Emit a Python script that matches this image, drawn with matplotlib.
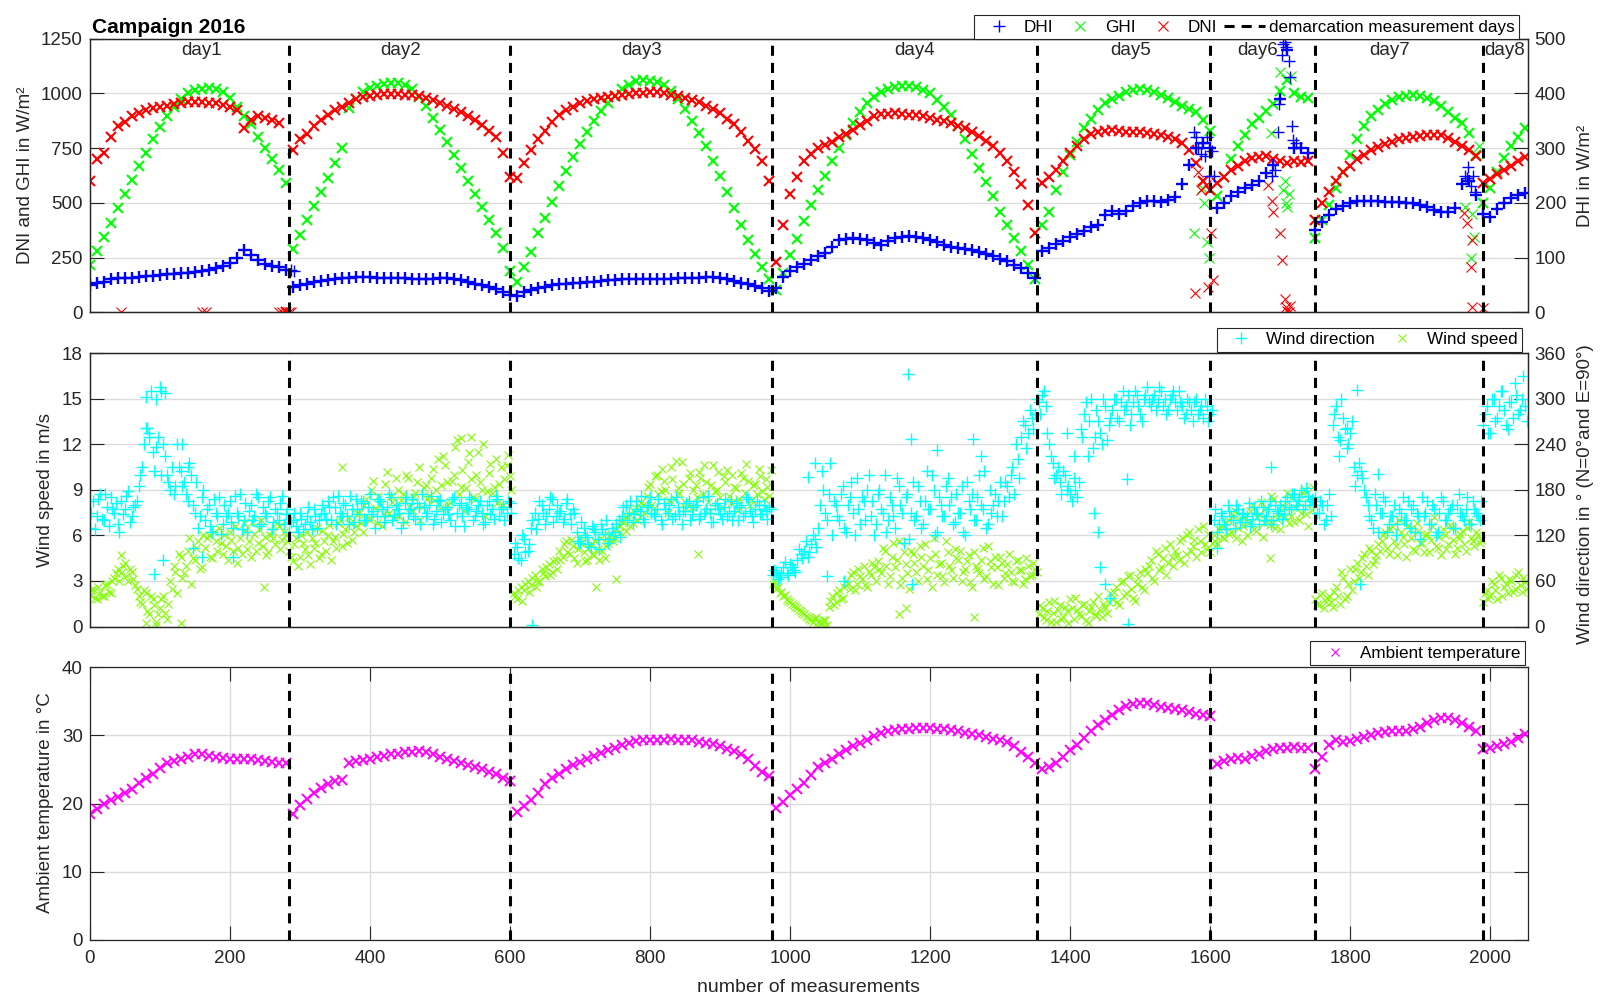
import numpy as np
import matplotlib
matplotlib.use("Agg")
import matplotlib.pyplot as plt
from matplotlib.lines import Line2D

plt.rcParams['font.family'] = ['Liberation Sans', 'DejaVu Sans']
INK = '#262626'
FS = 13.5        # axes text
FS_LEG = 12.3    # legend text

# ---------------------------------------------------------------- data
# measurement index where each new measurement day starts
day_bounds = [284, 600, 974, 1353, 1600, 1749, 1989]
day_names = ['day1', 'day2', 'day3', 'day4', 'day5', 'day6', 'day7', 'day8']
day_label_x = [160, 444, 788, 1177, 1486, 1667, 1856, 2020]

# irradiance and temperature, one value every 10 measurements (0 ... 2050)
STEP_SLOW = 10
dni = [
    600, 700, 730, 800, 850, 870, 895, 910, 925, 935, 940, 945, 950, 955, 960, 960, 960, 958, 955, 948, 940, 925, 840, 880, 895, 890, 880, 865, 0,
    740, 790, 815, 850, 878, 900, 925, 940, 955, 975, 985, 990, 995, 997, 998, 997, 995, 992, 988, 980, 970, 958, 945, 930, 915, 898, 878, 856, 830, 800, 730, 620,
    615, 680, 740, 790, 830, 870, 900, 925, 940, 955, 965, 975, 980, 985, 990, 995, 998, 1002, 1004, 1005, 1005, 1003, 995, 988, 980, 970, 960, 945, 930, 910, 885, 860, 825, 785, 745, 690, 600,
    230, 400, 540, 620, 690, 725, 750, 765, 780, 800, 815, 835, 855, 875, 895, 905, 908, 910, 905, 902, 900, 895, 888, 880, 875, 865, 852, 840, 825, 805, 785, 760, 730, 690, 640, 585, 490, 360,
    590, 620, 650, 690, 730, 760, 790, 815, 825, 830, 832, 828, 825, 822, 822, 820, 815, 810, 800, 790, 775, 740, 680, 600, 560,
    590, 620, 650, 670, 690, 705, 710, 715, 700, 690, 680, 690, 685, 690,
    420, 500, 550, 600, 640, 670, 700, 720, 740, 755, 770, 780, 790, 795, 800, 805, 808, 810, 808, 795, 780, 760, 740, 715,
    590, 610, 630, 650, 670, 690, 710,
]
ghi = [
    215, 280, 345, 410, 475, 540, 605, 670, 730, 790, 845, 895, 940, 975, 1000, 1015, 1022, 1025, 1020, 1005, 980, 940, 895, 860, 800, 750, 700, 650, 590,
    290, 355, 420, 485, 550, 615, 680, 750, 935, 975, 1005, 1025, 1035, 1045, 1050, 1048, 1040, 1020, 985, 945, 890, 835, 780, 720, 660, 600, 540, 480, 420, 360, 295, 190,
    140, 205, 275, 360, 430, 505, 575, 645, 711, 770, 825, 875, 920, 955, 990, 1020, 1040, 1055, 1060, 1058, 1052, 1040, 1010, 975, 930, 875, 820, 760, 690, 625, 550, 475, 400, 330, 265, 205, 150,
    100, 180, 260, 335, 415, 490, 560, 625, 690, 750, 810, 865, 915, 955, 985, 1005, 1020, 1030, 1035, 1035, 1030, 1015, 1000, 970, 940, 900, 850, 790, 725, 660, 595, 530, 460, 400, 340, 280, 215, 150,
    400, 460, 560, 640, 720, 780, 840, 885, 925, 955, 975, 990, 1005, 1015, 1020, 1018, 1005, 995, 980, 960, 945, 930, 915, 880, 830,
    530, 620, 700, 760, 810, 860, 890, 920, 950, 1010, 1060, 1000, 985, 980,
    340, 420, 490, 570, 640, 720, 790, 850, 895, 925, 950, 970, 985, 990, 993, 990, 980, 965, 945, 915, 890, 865, 820, 720,
    500, 570, 640, 705, 760, 800, 840,
]
dhi = [
    50, 53, 56, 60, 62, 63, 62, 64, 66, 67, 68, 69, 70, 71, 72, 74, 76, 78, 80, 84, 90, 100, 114, 105, 95, 88, 85, 82, 78,
    47, 49, 52, 55, 57, 59, 61, 62, 63, 64, 64, 64, 63, 63, 63, 62, 62, 61, 61, 61, 61, 62, 62, 60, 58, 55, 52, 50, 46, 42, 37, 32,
    30, 37, 41, 44, 47, 49, 51, 52, 53, 54, 55, 56, 57, 58, 59, 60, 61, 60, 60, 60, 60, 60, 61, 62, 62, 63, 63, 64, 64, 63, 60, 57, 54, 51, 48, 44, 38,
    45, 65, 75, 82, 89, 95, 102, 108, 120, 132, 134, 135, 134, 132, 126, 123, 130, 135, 138, 140, 138, 135, 132, 128, 122, 119, 117, 116, 113, 110, 106, 102, 98, 93, 87, 80, 72, 62,
    112, 118, 125, 130, 138, 143, 148, 155, 160, 178, 185, 180, 185, 195, 200, 203, 203, 202, 205, 210, 235, 270, 300, 310, 300,
    190, 200, 212, 220, 228, 233, 240, 255, 270, 390, 480, 300, 300, 292,
    150, 165, 178, 188, 195, 200, 203, 204, 203, 203, 202, 202, 201, 200, 199, 196, 192, 187, 184, 184, 190, 235, 240, 215,
    180, 175, 188, 200, 208, 215, 218,
]
temperature = [
    18.4, 19.2, 19.9, 20.5, 21.0, 21.5, 22.2, 23.0, 23.7, 24.3, 25.2, 25.9, 26.2, 26.5, 26.9, 27.2, 27.2, 27.0, 26.8, 26.7, 26.6, 26.6, 26.5, 26.5, 26.4, 26.3, 26.1, 26.0, 25.9,
    18.5, 19.8, 20.6, 21.5, 22.3, 22.8, 23.3, 23.4, 25.9, 26.2, 26.4, 26.6, 26.8, 27.0, 27.2, 27.3, 27.5, 27.6, 27.7, 27.6, 27.2, 26.8, 26.6, 26.3, 26.0, 25.6, 25.3, 25.0, 24.7, 24.3, 23.8, 23.3,
    18.8, 19.6, 20.5, 21.5, 22.8, 23.7, 24.4, 25.0, 25.6, 26.1, 26.5, 27.0, 27.4, 27.8, 28.2, 28.6, 28.9, 29.2, 29.3, 29.4, 29.4, 29.4, 29.5, 29.4, 29.4, 29.3, 29.1, 28.9, 28.7, 28.4, 28.0, 27.7, 27.3, 26.5, 25.5, 24.7, 24.0,
    19.3, 20.2, 21.2, 22.1, 23.0, 24.2, 25.3, 26.0, 26.6, 27.2, 27.8, 28.4, 28.9, 29.4, 29.9, 30.3, 30.6, 30.8, 30.9, 31.0, 31.1, 31.1, 31.1, 31.0, 30.9, 30.8, 30.6, 30.4, 30.2, 30.0, 29.8, 29.5, 29.3, 29.0, 28.5, 27.5, 26.8, 26.0,
    25.0, 25.4, 26.0, 26.8, 27.8, 28.6, 29.6, 30.6, 31.5, 32.2, 33.0, 33.7, 34.3, 34.6, 34.8, 34.8, 34.5, 34.2, 34.0, 33.9, 33.7, 33.5, 33.2, 33.0, 32.8,
    25.8, 26.2, 26.5, 26.7, 26.6, 27.0, 27.3, 27.7, 28.0, 28.2, 28.2, 28.3, 28.2, 28.1,
    25.0, 26.8, 28.6, 29.3, 29.0, 29.2, 29.5, 29.8, 30.0, 30.3, 30.5, 30.6, 30.6, 30.7, 30.9, 31.3, 31.8, 32.2, 32.5, 32.6, 32.2, 31.8, 31.3, 30.7,
    28.0, 28.2, 28.4, 28.7, 29.0, 29.6, 30.2,
]

# isolated readings (cloud passages, sensor dropouts)
dni_extra_n = [45, 160, 166, 270, 275, 285, 288, 1578, 1583, 1586, 1590, 1594, 1597, 1601, 1604,
               1683, 1688, 1690, 1700, 1703, 1706, 1708, 1710, 1712, 1714, 1962, 1966, 1972, 1973, 1974, 1989]
dni_extra = [0, 0, 0, 0, 0, 0, 0, 86, 640, 560, 600, 580, 117, 360, 147,
             580, 510, 460, 360, 240, 60, 25, 5, 0, 30, 452, 406, 208, 25, 330, 18]
ghi_extra_n = [1577, 1588, 1591, 1595, 1598, 1686, 1700, 1704, 1706, 1708, 1710, 1712, 1715, 1964, 1972, 1974, 1976, 1984]
ghi_extra = [360, 570, 500, 320, 250, 820, 1100, 560, 600, 500, 480, 540, 1080, 480, 250, 450, 345, 760]
dhi_extra_n = [288, 292, 1576, 1579, 1583, 1586, 1588, 1592, 1595, 1598, 1602, 1605,
               1688, 1692, 1696, 1698, 1702, 1704, 1706, 1708, 1712, 1714, 1716, 1718, 1722,
               1963, 1966, 1968, 1972, 1975, 1978]
dhi_extra = [77, 76, 330, 320, 300, 290, 310, 285, 320, 250, 295, 250,
             250, 260, 330, 380, 470, 490, 495, 485, 460, 430, 340, 315, 310,
             250, 245, 265, 230, 250, 220]

# wind: two readings in every block of 5 measurements (offsets 0 and 2)
STEP_WIND = 5
wind_dir = [
    130, 165, 145, 175, 140, 158, 170, 150, 135, 165, 155, 178, 145, 160,
    185, 210, 302, 255, 230, 300, 315, 240, 200, 180, 175, 240,
    205, 190, 165, 200, 150, 130, 170,
    140, 160, 125, 150, 170, 135, 145, 165, 130, 150, 175, 140, 125, 160, 145, 170, 135, 150, 165, 128, 155, 140, 172, 148,
    125, 140, 132, 150, 128, 145, 138, 155, 130, 148,
    150, 165, 140, 158, 172, 145, 160, 135, 155, 168, 148, 162, 140, 175, 152, 145, 165, 138, 158, 170,
    147, 155, 130, 162, 150, 168, 142, 157, 175, 145, 160, 135, 152, 166, 148, 158, 140, 170, 150, 162,
    132, 155, 168, 145, 160, 150, 138, 165, 155, 172, 145, 158, 150, 162,
    95, 105, 88, 115, 100,
    130, 150, 142, 160, 135, 155, 168, 145, 150, 138, 162, 148, 155,
    125, 110, 130, 118, 105, 128, 115, 135, 122, 110, 130, 120, 140,
    145, 160, 150, 138, 165, 152, 142, 158, 170, 148, 155, 140, 162, 150, 168, 145, 158, 135, 152, 165,
    148, 160, 142, 170, 155, 150, 138, 162, 148, 158, 145, 165, 152, 140, 160, 150, 168, 145, 155, 160, 148, 152, 158,
    68, 72, 65, 78, 70, 82, 75,
    88, 95, 100, 92, 108, 115,
    130, 205, 150, 175, 120,
    160, 140, 185, 125, 170, 150, 195, 135, 165, 180, 145, 120, 175, 155, 200, 140, 160, 130, 185, 150,
    170, 115, 190, 145, 165, 135, 205, 155, 180, 125, 160, 145, 195, 170, 138, 150, 185, 120, 165, 175,
    140, 200, 155, 130, 180, 160, 145, 190,
    165, 185, 200, 175, 220, 250, 265, 255, 275, 280,
    295, 305, 290, 240,
    215, 200, 190, 205, 180, 175, 195, 170,
    260, 280, 225, 300, 250, 270, 240, 290, 265,
    285, 300, 270, 310, 290, 265, 295, 305, 280, 300, 315, 290, 305, 295, 310, 300, 285, 305, 295, 310,
    290, 280, 295, 270, 300, 285, 275, 290, 280,
    140, 125, 150, 135, 160, 145, 130, 155, 148, 138, 162, 142, 150, 135, 158, 145, 165, 140, 152, 160,
    148, 170, 155, 175, 165, 180, 160, 172, 168,
    170, 150, 160, 140, 175,
    265, 290, 245, 275, 235, 255,
    210, 200, 205, 180,
    160, 140, 175, 125, 150, 165, 135, 145, 120, 155, 170, 140, 130, 160, 150, 115, 145, 165, 135, 155,
    125, 170, 140, 150, 160, 130, 175, 145, 155, 135, 165, 150, 140,
    265, 290, 255, 300, 275, 310, 285, 260, 295, 320, 280, 300, 290,
]
wind_dir_2 = [
    150, 128, 168, 142, 175, 132, 155, 162, 125, 148, 172, 138, 158, 165,
    200, 240, 262, 310, 205, 250, 200, 225, 190, 210, 185, 210,
    185, 175, 215, 160, 190, 145, 180,
    155, 132, 168, 145, 122, 160, 150, 138, 172, 145, 128, 162, 152, 140, 175, 132, 158, 145, 170, 138, 150, 162, 135, 155,
    138, 150, 125, 142, 135, 158, 128, 145, 140, 160,
    142, 158, 170, 135, 150, 162, 145, 172, 138, 155, 165, 140, 158, 148, 130, 168, 155, 145, 175, 140,
    160, 150, 138, 170, 155, 145, 162, 135, 158, 150, 172, 142, 165, 138, 155, 148, 168, 132, 160, 145,
    158, 170, 140, 152, 165, 135, 160, 148, 142, 168, 155, 140, 165, 150,
    110, 90, 120, 98, 108,
    140, 128, 165, 150, 145, 170, 138, 160, 152, 142, 168, 135, 150,
    112, 138, 120, 108, 132, 125, 102, 128, 140, 115, 125, 135, 118,
    158, 140, 165, 148, 155, 172, 138, 160, 150, 145, 168, 135, 155, 160, 142, 170, 148, 152, 162, 140,
    158, 165, 145, 150, 172, 138, 160, 155, 142, 168, 150, 140, 162, 158, 145, 170, 152, 138, 165, 148, 160, 142, 155,
    75, 62, 70, 85, 68, 78, 72,
    102, 90, 112, 98, 120, 105,
    160, 180, 140, 215, 165,
    145, 175, 130, 160, 190, 120, 155, 170, 140, 200, 165, 135, 180, 150, 125, 170, 145, 195, 160, 110,
    175, 150, 140, 185, 130, 165, 155, 200, 120, 170, 145, 185, 160, 135, 175, 150, 125, 190, 155, 140,
    170, 160, 205, 135, 150, 175, 165, 145,
    190, 170, 210, 240, 195, 270, 235, 285, 260, 300,
    280, 310, 255, 225,
    195, 210, 175, 200, 185, 165, 180, 190,
    250, 295, 270, 235, 285, 255, 300, 245, 275,
    300, 275, 295, 285, 305, 280, 310, 290, 270, 305, 295, 300, 285, 315, 290, 280, 300, 310, 285, 295,
    275, 300, 285, 295, 280, 290, 300, 270, 285,
    155, 135, 145, 128, 152, 140, 160, 138, 150, 145, 132, 158, 148, 165, 140, 155, 135, 160, 150, 142,
    165, 158, 175, 160, 170, 155, 182, 165, 160,
    150, 165, 135, 160, 145,
    280, 250, 300, 260, 240, 270,
    185, 215, 195, 170,
    145, 130, 160, 150, 170, 125, 145, 160, 135, 150, 140, 165, 155, 125, 145, 170, 150, 135, 160, 120,
    150, 165, 140, 155, 130, 160, 150, 140, 170, 135, 155, 145, 165,
    280, 255, 300, 270, 290, 310, 265, 295, 275, 305, 285, 330, 270,
]
wind_speed = [
    2.1, 2.5, 1.8, 2.3, 2.0, 2.8, 2.2,
    3.2, 3.8, 3.5, 4.2, 3.0, 3.6, 2.7,
    2.0, 1.5, 2.2, 0.8, 1.8, 0.3, 1.2, 2.0, 0.5,
    3.0, 4.0, 2.2, 4.6, 3.5, 5.0, 2.8, 4.4, 5.6, 3.9,
    5.2, 6.0, 4.5, 5.6, 6.5, 4.8, 5.3, 6.2, 5.0, 4.2, 5.8, 6.8, 5.1, 4.6, 6.1, 5.5, 7.0, 5.9, 4.9, 6.3, 5.4, 6.6, 5.7, 6.0,
    5.0, 4.3, 5.8, 4.6, 5.5, 6.2, 4.1, 5.2, 6.5, 4.8, 5.6, 6.0, 4.4, 5.9, 6.8, 5.3, 6.4, 7.2, 5.7, 6.6,
    7.5, 6.2, 8.4, 7.0, 9.6, 6.8, 8.0, 7.4, 10.2, 8.6, 7.1, 9.0, 8.3, 6.9, 9.8, 7.7, 8.8, 10.5, 7.9, 9.3,
    8.6, 10.4, 9.0, 7.8, 11.2, 9.5, 8.2, 10.0, 12.3, 9.2, 7.6, 10.8, 9.7, 8.4, 11.5, 9.0, 7.3, 10.1, 8.8, 11.0,
    9.4, 8.0, 10.6, 9.9,
    2.2, 1.8, 2.6, 2.4, 3.0, 2.7, 3.4, 2.9, 3.8, 3.3, 4.1, 3.6, 4.4,
    5.0, 4.6, 5.6, 4.8, 5.3, 4.2, 5.9, 4.9, 4.4, 5.4, 4.7, 5.1, 5.8, 4.5,
    5.5, 6.1, 5.8, 6.6, 7.0, 6.3, 7.4, 6.8, 7.8, 7.2, 8.0,
    8.6, 9.4, 7.8, 10.0, 8.9, 9.6, 7.5, 10.5, 8.4, 9.1, 10.8, 8.2, 9.8, 7.9, 9.3, 10.2, 8.7, 9.5, 7.6, 10.6,
    9.0, 8.5, 9.9, 10.3, 8.1, 9.2, 7.7, 10.1, 8.8, 9.6, 8.3, 9.4, 10.4, 8.9, 9.7, 8.6,
    2.8, 2.5, 2.2, 2.0, 1.8, 1.6, 1.4, 1.2, 1.0, 0.8, 0.6, 0.4, 0.5, 0.3, 0.2, 0.4,
    1.3, 2.0, 1.6, 2.4, 1.9,
    3.0, 2.5, 3.6, 2.8, 3.3, 4.0, 2.6, 3.4, 3.9,
    4.3, 3.5, 5.0, 2.8, 4.6, 3.9, 5.6, 3.2, 4.1, 2.5, 4.8, 3.6, 5.3, 4.0, 3.1, 4.5, 5.8, 3.4, 4.2, 2.9,
    4.9, 3.7, 5.1, 4.4, 3.0, 3.8, 4.7, 2.6, 4.0, 3.5, 5.2, 3.3, 4.3, 2.8, 3.9, 4.6, 3.2, 4.1, 3.6, 2.9,
    4.4, 3.7, 3.1, 4.0, 3.4, 3.8,
    0.8, 1.2, 0.4, 1.6, 0.9, 0.3, 1.4, 0.6, 1.0, 1.8, 0.5, 1.1, 0.7, 1.5, 0.2, 1.3, 0.8, 2.0, 0.6, 1.2, 1.6,
    1.8, 2.6, 1.4, 3.0, 2.2, 3.4, 1.9, 2.8, 3.6, 2.4,
    3.5, 4.4, 3.0, 4.8, 3.9, 5.2, 4.2, 4.6,
    5.0, 4.4, 5.8, 4.8, 6.2, 5.3, 4.6, 5.6, 6.6, 5.1, 4.9,
    6.0, 5.4, 6.6, 5.8, 7.0, 6.2, 7.6, 6.5, 5.6, 7.2, 6.8, 8.0, 6.3, 7.4, 5.9, 7.8, 6.7, 8.4, 7.1, 6.4,
    7.9, 8.8, 7.3, 6.9, 8.2, 7.5, 9.0, 6.6, 7.7,
    1.8, 1.4, 2.2, 1.6, 2.0, 1.3,
    2.6, 1.5, 3.2, 2.0, 3.8,
    3.0, 4.2, 3.6, 4.8, 3.4, 5.0, 4.4, 5.4,
    5.6, 6.2, 4.8, 6.6, 5.3, 7.0, 5.9, 4.6, 6.4, 5.1, 6.8, 5.5, 4.9, 6.1, 5.7, 7.2, 5.2, 4.7, 6.0, 5.4,
    6.5, 4.8, 5.8, 6.3, 5.0, 6.9, 5.6, 6.2, 5.5,
    1.6, 2.4, 2.0, 2.8, 1.8, 3.2, 2.6, 2.2, 3.0, 2.5, 3.6, 2.3, 2.9,
]
wind_speed_2 = [
    2.4, 1.9, 2.6, 2.0, 2.7, 2.3, 3.0,
    3.5, 3.0, 4.0, 3.3, 3.8, 3.1, 2.5,
    1.6, 2.4, 1.0, 2.0, 1.4, 0.8, 1.8, 0.9, 1.5,
    2.5, 3.6, 4.8, 3.2, 4.0, 5.8, 4.5, 5.2, 3.8, 6.0,
    5.8, 4.6, 6.2, 5.0, 5.5, 6.0, 4.4, 5.7, 6.6, 5.2, 4.8, 6.3, 5.6, 6.9, 5.0, 6.4, 5.3, 4.7, 6.0, 5.8, 6.8, 5.1, 6.2, 5.6,
    4.6, 5.4, 4.0, 6.0, 5.1, 4.7, 5.8, 5.5, 4.5, 6.3, 5.0, 6.7, 5.6, 5.2, 7.0, 6.1, 5.5, 6.8, 6.2, 7.4,
    6.8, 8.0, 7.2, 9.0, 7.8, 8.6, 6.6, 9.4, 7.5, 8.2, 9.8, 7.3, 8.7, 10.0, 7.9, 8.5, 9.5, 7.0, 9.1, 8.4,
    9.8, 8.3, 11.0, 9.3, 10.6, 8.0, 9.6, 11.8, 8.7, 10.3, 9.1, 11.4, 8.5, 10.0, 9.5, 12.0, 8.9, 10.7, 9.2, 8.1,
    10.5, 9.7, 11.3, 9.0,
    2.0, 2.4, 1.7, 2.8, 2.3, 3.2, 2.6, 3.0, 3.5, 3.9, 3.4, 4.3, 3.8,
    4.4, 5.4, 4.9, 5.7, 4.5, 5.1, 5.5, 4.3, 5.2, 4.8, 5.6, 4.4, 5.0, 5.3,
    6.0, 5.6, 6.4, 6.2, 6.8, 7.2, 6.6, 7.6, 7.0, 8.2, 7.5,
    9.2, 8.0, 9.9, 8.7, 10.4, 9.0, 8.3, 9.7, 10.9, 8.8, 9.4, 7.8, 10.1, 9.0, 8.5, 9.8, 10.6, 8.2, 9.3, 8.9,
    10.2, 7.9, 9.5, 8.6, 10.0, 9.1, 8.4, 9.8, 10.7, 8.0, 9.3, 8.7, 9.9, 8.4, 9.2, 10.3,
    3.0, 2.6, 2.3, 2.1, 1.7, 1.5, 1.3, 1.1, 0.9, 0.7, 0.5, 0.3, 0.6, 0.2, 0.4, 0.1,
    1.7, 1.4, 2.2, 1.8, 2.6,
    2.8, 3.4, 2.4, 3.8, 3.1, 2.7, 3.6, 4.2, 3.0,
    3.8, 5.2, 4.0, 3.3, 5.5, 4.4, 2.7, 4.9, 3.5, 5.0, 4.2, 3.0, 4.6, 5.4, 3.7, 2.6, 4.8, 4.1, 3.3, 5.6,
    4.0, 3.2, 4.5, 5.0, 3.6, 4.3, 2.9, 4.9, 3.8, 4.4, 3.1, 5.3, 3.9, 4.6, 2.7, 4.2, 3.5, 4.8, 3.0, 4.3,
    3.7, 2.8, 4.5, 3.3, 4.2, 3.6,
    1.4, 0.6, 1.0, 0.3, 1.7, 1.1, 0.5, 1.3, 0.2, 1.2, 1.9, 0.8, 1.4, 0.4, 1.0, 1.6, 0.7, 1.1, 1.5, 0.9, 2.2,
    2.3, 1.6, 2.9, 2.0, 3.3, 2.5, 1.7, 3.2, 2.6, 3.8,
    4.0, 3.2, 5.0, 3.7, 4.5, 3.4, 5.4, 4.0,
    4.7, 5.6, 4.2, 6.0, 5.0, 5.7, 6.4, 4.9, 5.4, 6.1, 5.5,
    5.6, 6.4, 5.9, 6.9, 6.1, 7.3, 5.8, 7.0, 6.6, 6.0, 7.6, 6.4, 7.2, 8.2, 6.8, 7.0, 8.6, 6.5, 7.5, 8.0,
    7.2, 6.8, 8.5, 7.8, 7.0, 8.8, 7.4, 8.1, 9.2,
    1.5, 2.1, 1.2, 1.9, 1.6, 2.3,
    2.0, 3.6, 1.8, 2.8, 2.4,
    3.8, 3.2, 4.5, 4.0, 5.2, 4.1, 4.7, 5.0,
    6.0, 5.2, 6.4, 5.6, 4.7, 6.2, 5.4, 6.7, 5.8, 5.0, 6.3, 5.5, 6.0, 4.9, 6.6, 5.3, 5.9, 6.4, 5.1, 6.7,
    5.7, 5.2, 6.1, 5.4, 6.5, 5.8, 5.3, 6.0, 5.7,
    2.2, 1.8, 3.0, 2.4, 3.4, 2.0, 2.8, 3.1, 2.3, 3.4, 2.7, 3.2, 2.5,
]
wdir_extra_n = [80, 84, 91, 95, 101, 104, 107, 132, 140, 148, 160, 205, 631, 1026, 1035, 1052, 1077, 1168, 1173, 1174,
                1210, 1261, 1273, 1395, 1405, 1434, 1439, 1442, 1450, 1457, 1481, 1483, 1610, 1686, 1783, 1795, 1809, 1814, 1839]
wdir_extra = [262, 250, 69, 236, 310, 87, 307, 240, 210, 104, 91, 91, 2, 197, 215, 67, 60, 333, 247, 56,
              232, 247, 225, 255, 225, 150, 125, 78, 56, 38, 194, 3, 104, 210, 225, 262, 311, 56, 201]
wspd_extra_n = [45, 80, 95, 130, 249, 360, 530, 545, 723, 751, 868, 1155, 1165, 1262, 1685]
wspd_extra = [4.7, 0.2, 0.1, 0.2, 2.6, 10.5, 12.4, 12.5, 2.6, 3.1, 4.8, 0.8, 1.2, 0.6, 4.5]

# ---------------------------------------------------------------- figure
W_PX, H_PX = 1600, 998
fig = plt.figure(figsize=(W_PX / 100, H_PX / 100), dpi=100)


def box(left, top, right, bottom):
    return [left / W_PX, 1 - bottom / H_PX, (right - left) / W_PX, (bottom - top) / H_PX]


X_L, X_R = 89.8, 1527.6
ax1 = fig.add_axes(box(X_L, 38.8, X_R, 312.2))
ax2 = fig.add_axes(box(X_L, 353.1, X_R, 626.5))
ax3 = fig.add_axes(box(X_L, 667.3, X_R, 939.8))
ax1r = ax1.twinx()
ax2r = ax2.twinx()

XMAX = 2053
GRID = '#dcdcdc'
DASH = dict(color='k', lw=2.2, linestyle=(0, (3.3, 2.3)))

x_slow = np.arange(len(dni)) * STEP_SLOW
x_wind = np.arange(len(wind_dir)) * STEP_WIND
x_wind_2 = np.arange(len(wind_dir_2)) * STEP_WIND + 2


def pts(ax, x, y, marker, color, ms, mew, z=2):
    ax.plot(x, y, ls='none', marker=marker, color=color, ms=ms, mew=mew, zorder=z)


def style(ax):
    ax.tick_params(direction='in', length=10, width=0.8, colors=INK, labelsize=FS)
    for s in ax.spines.values():
        s.set_color(INK)
        s.set_linewidth(0.9)


def legend(ax, handles, labels, right_px, bottom_px, ncol, colsp):
    leg = ax.legend(handles, labels, ncol=ncol, loc='lower right',
                    bbox_to_anchor=(right_px / W_PX, 1 - bottom_px / H_PX),
                    bbox_transform=fig.transFigure, fontsize=FS_LEG, frameon=True,
                    fancybox=False, framealpha=1, edgecolor=INK, handlelength=2.4,
                    handletextpad=0.25, columnspacing=colsp, borderpad=0.25, borderaxespad=0)
    leg.get_frame().set_linewidth(0.8)
    return leg


# ---- irradiance
GHI_C, DNI_C, DHI_C = (0, 1, 0), (1, 0, 0), (0, 0, 1)
pts(ax1, x_slow, ghi, 'x', GHI_C, 7.5, 1.5)
pts(ax1, ghi_extra_n, ghi_extra, 'x', GHI_C, 6.5, 0.8)
pts(ax1, x_slow, dni, 'x', DNI_C, 7.5, 1.5, z=3)
pts(ax1, dni_extra_n, dni_extra, 'x', DNI_C, 6.5, 0.8, z=3)
pts(ax1r, x_slow, dhi, '+', DHI_C, 8.5, 1.7)
pts(ax1r, dhi_extra_n, dhi_extra, '+', DHI_C, 8, 1.0)
for b in day_bounds:
    ax1r.axvline(b, zorder=5, **DASH)
for name, xl in zip(day_names, day_label_x):
    ax1.text(xl, 1176, name, ha='center', va='baseline', fontsize=FS, color=INK)

ax1.set_xlim(0, XMAX)
ax1.set_ylim(0, 1250)
ax1.set_yticks(np.arange(0, 1251, 250))
ax1r.set_ylim(0, 500)
ax1r.set_yticks(np.arange(0, 501, 100))
ax1.set_xticks([])
ax1.yaxis.grid(True, color=GRID, lw=1.0)
ax1.set_axisbelow(True)
for a in (ax1, ax1r):
    style(a)
    a.tick_params(axis='y', pad=5)

fig.text(92 / W_PX, 1 - 33 / H_PX, 'Campaign 2016', fontsize=15, fontweight='bold',
         ha='left', va='baseline', color='k')

legend(ax1r,
       [Line2D([], [], ls='none', marker='+', color=DHI_C, ms=8, mew=1.0),
        Line2D([], [], ls='none', marker='x', color=GHI_C, ms=6.5, mew=0.8),
        Line2D([], [], ls='none', marker='x', color=DNI_C, ms=6.5, mew=0.8),
        Line2D([], [], **DASH)],
       ['DHI', 'GHI', 'DNI', 'demarcation measurement days'], 1519, 38.8, 4, 0.4)

# ---- wind
WS_COLOR = (0.5, 1, 0)
WD_COLOR = (0, 1, 1)
pts(ax2, x_wind, wind_speed, 'x', WS_COLOR, 6, 0.8)
pts(ax2, x_wind_2, wind_speed_2, 'x', WS_COLOR, 6, 0.8)
pts(ax2, wspd_extra_n, wspd_extra, 'x', WS_COLOR, 6, 0.8)
pts(ax2r, x_wind, wind_dir, '+', WD_COLOR, 8.5, 1.0)
pts(ax2r, x_wind_2, wind_dir_2, '+', WD_COLOR, 8.5, 1.0)
pts(ax2r, wdir_extra_n, wdir_extra, '+', WD_COLOR, 8.5, 1.0)
for b in day_bounds:
    ax2r.axvline(b, zorder=5, **DASH)
ax2.set_xlim(0, XMAX)
ax2.set_ylim(0, 18)
ax2.set_yticks(np.arange(0, 19, 3))
ax2r.set_ylim(0, 360)
ax2r.set_yticks(np.arange(0, 361, 60))
ax2.set_xticks([])
ax2.yaxis.grid(True, color=GRID, lw=1.0)
ax2.set_axisbelow(True)
for a in (ax2, ax2r):
    style(a)
    a.tick_params(axis='y', pad=5)

legend(ax2r,
       [Line2D([], [], ls='none', marker='+', color=WD_COLOR, ms=8.5, mew=1.0),
        Line2D([], [], ls='none', marker='x', color=WS_COLOR, ms=6, mew=0.8)],
       ['Wind direction', 'Wind speed'], 1522, 351.7, 2, 0.4)

# ---- ambient temperature
TA_C = (1, 0, 1)
pts(ax3, x_slow, temperature, 'x', TA_C, 7, 1.4)
for b in day_bounds:
    ax3.axvline(b, zorder=5, **DASH)
ax3.set_xlim(0, XMAX)
ax3.set_ylim(0, 40)
ax3.set_yticks(np.arange(0, 41, 10))
ax3.set_xticks(np.arange(0, 2001, 200))
ax3.grid(True, color=GRID, lw=1.0)
ax3.set_axisbelow(True)
style(ax3)
ax3.tick_params(top=True, right=True)
ax3.tick_params(axis='x', pad=7)
ax3.tick_params(axis='y', pad=5)
ax3.set_xlabel('number of measurements', fontsize=14, color=INK, labelpad=9)

legend(ax3, [Line2D([], [], ls='none', marker='x', color=TA_C, ms=6, mew=0.8)],
       ['Ambient temperature'], 1524.5, 665, 1, 0.4)

# ---- axis titles
def ylab(x_px, y_px, text):
    fig.text(x_px / W_PX, 1 - y_px / H_PX, text, rotation=90, ha='center', va='center',
             fontsize=FS, color=INK)


ylab(25.5, 175.5, 'DNI and GHI in W/m²')
ylab(1585, 175.5, 'DHI in W/m²')
ylab(46, 490, 'Wind speed in m/s')
ylab(1585, 494, 'Wind direction in ° (N=0°and E=90°)')
ylab(46, 803, 'Ambient temperature in °C')

fig.savefig('out.png', dpi=100)
